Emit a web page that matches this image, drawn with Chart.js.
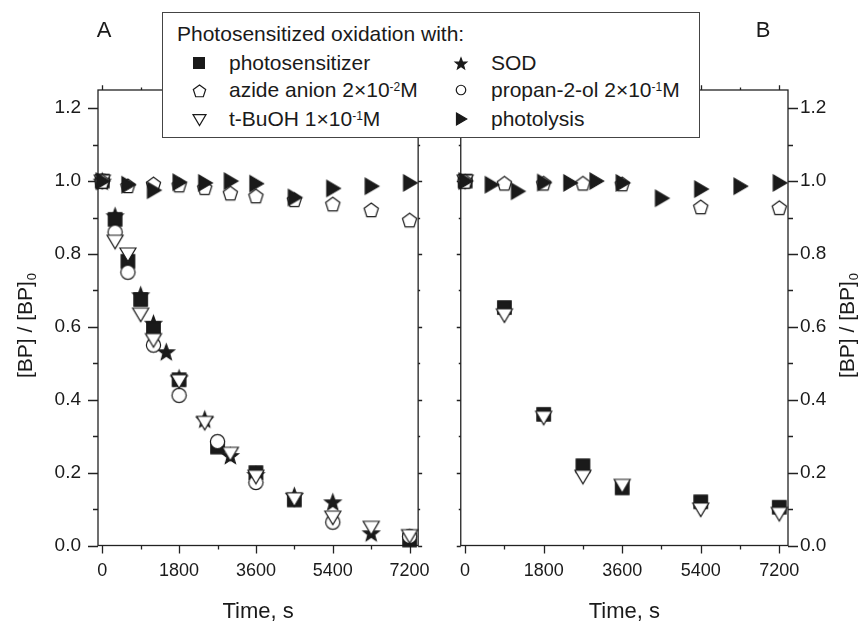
<!DOCTYPE html>
<html>
<head>
<meta charset="utf-8">
<title>BP photosensitized oxidation</title>
<script src="https://cdn.jsdelivr.net/npm/chart.js"></script>
<style>
  body { margin: 0; background: #fff; }
  #wrap { position: relative; width: 867px; height: 623px; overflow: hidden;
          font-family: "Liberation Sans", Arial, sans-serif; color: #1a1a1a; }
  canvas { position: absolute; top: 0; }
  #cA { left: 0; }
  #cB { left: 445px; }
  #legend { position: absolute; left: 162px; top: 12px; width: 536px; height: 124px;
            border: 1px solid #444; background: #fff; font-size: 21px; }
  #legend .t { position: absolute; left: 14px; top: 9px; line-height: 24px; white-space: nowrap; }
  #legend .row { position: absolute; white-space: nowrap; line-height: 24px; }
  #legend img { position: absolute; }
  #legend sup { font-size: 12px; position: relative; top: -3px; vertical-align: top; }
</style>
</head>
<body>
<div id="wrap">
  <canvas id="cA" width="445" height="623"></canvas>
  <canvas id="cB" width="422" height="623"></canvas>
  <div id="legend"></div>
</div>
<script>
// axis ticks
const xTicks = [0, 1800, 3600, 5400, 7200];
const xMinor = [900, 2700, 4500, 6300];
const yTicks = [0, 0.2, 0.4, 0.6, 0.8, 1.0, 1.2];
const yMinor = [0.1, 0.3, 0.5, 0.7, 0.9, 1.1];

// panel A
const tPsA = [0, 300, 600, 900, 1200, 1800, 2700, 3600, 4500, 7200];
const psA  = [1.0, 0.895, 0.78, 0.675, 0.595, 0.455, 0.27, 0.2, 0.125, 0.015];
const tSodA = [0, 300, 900, 1200, 1500, 1800, 2400, 3000, 3600, 4500, 5400, 6300];
const sodA  = [1.0, 0.905, 0.688, 0.61, 0.532, 0.46, 0.347, 0.247, 0.195, 0.137, 0.12, 0.035];
const tAzA = [0, 600, 1200, 1800, 2400, 3000, 3600, 4500, 5400, 6300, 7200];
const azA  = [1.0, 0.988, 0.993, 0.99, 0.983, 0.968, 0.96, 0.95, 0.938, 0.922, 0.894];
const tPrA = [0, 300, 600, 1200, 1800, 2700, 3600, 5400, 7200];
const prA  = [1.0, 0.86, 0.75, 0.55, 0.412, 0.285, 0.173, 0.064, 0.025];
const tTbA = [0, 300, 600, 900, 1200, 1800, 2400, 3000, 3600, 4500, 5400, 6300, 7200];
const tbA  = [1.0, 0.835, 0.80, 0.635, 0.565, 0.452, 0.338, 0.253, 0.19, 0.128, 0.078, 0.05, 0.027];
const tPhA = [0, 600, 1200, 1800, 2400, 3000, 3600, 4500, 5400, 6300, 7200];
const phA  = [1.0, 0.99, 0.975, 0.997, 0.995, 1.0, 0.993, 0.955, 0.98, 0.986, 0.995];

// panel B
const tB   = [0, 900, 1800, 2700, 3600, 5400, 7200];
const psB  = [1.0, 0.653, 0.36, 0.219, 0.158, 0.12, 0.105];
const tbB  = [1.0, 0.633, 0.352, 0.19, 0.165, 0.1, 0.088];
const azB  = [1.0, 0.995, 0.995, 0.995, 0.993, 0.93, 0.928];
const tPhB = [0, 600, 1200, 1800, 2400, 3000, 3600, 4500, 5400, 6300, 7200];
const phB  = [1.0, 0.99, 0.972, 0.996, 0.995, 1.0, 0.995, 0.953, 0.978, 0.986, 0.995];

const FONT = '"Liberation Sans", Arial, sans-serif';
const INK = '#1a1a1a';

// marker glyphs drawn on small canvases, used as pointStyle
function marker(kind, size) {
  const s = Math.ceil(size + 4);
  const c = document.createElement('canvas');
  c.width = s; c.height = s;
  const ctx = c.getContext('2d');
  const m = s / 2, r = size / 2;
  ctx.lineWidth = 1.2;
  ctx.strokeStyle = INK;
  ctx.fillStyle = '#fff';
  ctx.beginPath();
  if (kind === 'square') {
    ctx.rect(m - r * 0.9, m - r * 0.9, r * 1.8, r * 1.8);
    ctx.fillStyle = INK;
  } else if (kind === 'pentagon') {
    for (let i = 0; i < 5; i++) {
      const a = -Math.PI / 2 + i * 2 * Math.PI / 5;
      ctx.lineTo(m + r * Math.cos(a), m + 1 + r * Math.sin(a));
    }
  } else if (kind === 'tridown') {
    ctx.moveTo(m - r, m - r * 0.75);
    ctx.lineTo(m + r, m - r * 0.75);
    ctx.lineTo(m, m + r * 0.95);
  } else if (kind === 'triright') {
    ctx.moveTo(m - r * 0.75, m - r);
    ctx.lineTo(m + r * 0.95, m);
    ctx.lineTo(m - r * 0.75, m + r);
    ctx.fillStyle = INK;
  } else if (kind === 'circle') {
    ctx.arc(m, m, r * 0.95, 0, Math.PI * 2);
  } else if (kind === 'star') {
    for (let i = 0; i < 10; i++) {
      const a = -Math.PI / 2 + i * Math.PI / 5;
      const rr = i % 2 ? r * 0.42 : r;
      ctx.lineTo(m + rr * Math.cos(a), m + 1 + rr * Math.sin(a));
    }
    ctx.fillStyle = INK;
  }
  ctx.closePath();
  ctx.fill();
  ctx.stroke();
  return c;
}

const glyph = {
  ps: marker('square', 15),
  sod: marker('star', 17),
  az: marker('pentagon', 15),
  pr: marker('circle', 15),
  tb: marker('tridown', 16),
  ph: marker('triright', 16)
};

function pts(xs, ys) {
  return xs.map((x, i) => ({ x: x, y: ys[i] }));
}

function ds(label, xs, ys, style) {
  return { label: label, data: pts(xs, ys), pointStyle: style, pointRadius: 8,
           showLine: false, clip: false };
}

// frame with major/minor ticks on every side, placed through the scales
const framePlugin = {
  id: 'frame',
  beforeDatasetsDraw(chart, args, o) {
    const { ctx, chartArea: a } = chart;
    const xs = chart.scales.x, ys = chart.scales.y;
    ctx.save();
    ctx.strokeStyle = '#222';
    ctx.lineWidth = 1.3;
    ctx.strokeRect(a.left, a.top, a.right - a.left, a.bottom - a.top);
    ctx.beginPath();
    const xt = (list, len) => list.forEach(v => {
      const p = Math.round(xs.getPixelForValue(v)) + 0.5;
      ctx.moveTo(p, a.bottom); ctx.lineTo(p, a.bottom + len);
      ctx.moveTo(p, a.top); ctx.lineTo(p, a.top - len * 0.6);
    });
    const yt = (list, lenL, lenR) => list.forEach(v => {
      const p = Math.round(ys.getPixelForValue(v)) + 0.5;
      ctx.moveTo(a.left, p); ctx.lineTo(a.left - lenL, p);
      ctx.moveTo(a.right, p); ctx.lineTo(a.right + lenR, p);
    });
    xt(xTicks, 8);
    xt(xMinor, 4);
    yt(yTicks, o.left[0], o.right[0]);
    yt(yMinor, o.left[1], o.right[1]);
    ctx.stroke();
    ctx.restore();
  },
  afterDraw(chart, args, o) {
    const ctx = chart.ctx;
    ctx.save();
    ctx.fillStyle = INK;
    ctx.font = '22px ' + FONT;
    ctx.textAlign = 'center';
    ctx.textBaseline = 'middle';
    ctx.fillText(o.panel[0], o.panel[1], o.panel[2]);
    // rotated y title with subscript 0
    ctx.translate(o.ytitle[0], o.ytitle[1]);
    ctx.rotate(-Math.PI / 2);
    ctx.textAlign = 'left';
    ctx.textBaseline = 'alphabetic';
    ctx.font = '21px ' + FONT;
    const main = '[BP] / [BP]';
    const w1 = ctx.measureText(main).width;
    ctx.font = '13px ' + FONT;
    const w2 = ctx.measureText('0').width;
    const x0 = -(w1 + w2) / 2;
    ctx.fillText('0', x0 + w1 + 1, 11);
    ctx.font = '21px ' + FONT;
    ctx.fillText(main, x0, 7);
    ctx.restore();
  }
};

function makeChart(id, datasets, side, pad, yWidth, yPad, frameOpts) {
  return new Chart(document.getElementById(id), {
    type: 'scatter',
    data: { datasets: datasets },
    options: {
      responsive: false,
      animation: false,
      events: [],
      layout: { padding: pad },
      plugins: { legend: { display: false }, tooltip: { enabled: false }, frame: frameOpts },
      scales: {
        x: {
          type: 'linear', min: -100, max: 7400,
          grid: { display: false, drawTicks: false },
          border: { display: false },
          afterBuildTicks: s => { s.ticks = xTicks.map(v => ({ value: v })); },
          afterFit: s => { s.height = 77.5; },
          ticks: { padding: 15, color: INK, font: { family: FONT, size: 18 },
                   callback: v => String(v) },
          title: { display: true, text: 'Time, s', color: INK,
                   font: { family: FONT, size: 22 }, padding: { top: 0, bottom: -2 } }
        },
        y: {
          type: 'linear', position: side, min: 0, max: 1.25,
          grid: { display: false, drawTicks: false },
          border: { display: false },
          afterBuildTicks: s => { s.ticks = yTicks.map(v => ({ value: v })); },
          afterFit: s => { s.width = yWidth; },
          ticks: { padding: yPad, color: INK, font: { family: FONT, size: 19 },
                   callback: v => v.toFixed(1) }
        }
      }
    },
    plugins: [framePlugin]
  });
}

makeChart('cA', [
  ds('photolysis', tPhA, phA, glyph.ph),
  ds('azide anion', tAzA, azA, glyph.az),
  ds('t-BuOH', tTbA, tbA, glyph.tb),
  ds('propan-2-ol', tPrA, prA, glyph.pr),
  ds('photosensitizer', tPsA, psA, glyph.ps),
  ds('SOD', tSodA, sodA, glyph.sod)
], 'left', { top: 90, right: 14, left: 0, bottom: 0 }, 98, 17,
  { left: [10, 5], right: [4, 2], panel: ['A', 104, 31], ytitle: [25, 326] });

makeChart('cB', [
  ds('photolysis', tPhB, phB, glyph.ph),
  ds('azide anion', tB, azB, glyph.az),
  ds('t-BuOH', tB, tbB, glyph.tb),
  ds('photosensitizer', tB, psB, glyph.ps)
], 'right', { top: 90, right: 0, left: 9, bottom: 0 }, 79, 12,
  { left: [4, 2], right: [10, 5], panel: ['B', 318, 31], ytitle: [402, 326] });

// legend box spanning both panels
const legendRows = [
  ['ps', 'photosensitizer', 'sod', 'SOD'],
  ['az', 'azide anion 2×10<sup>-2</sup>M', 'pr', 'propan-2-ol 2×10<sup>-1</sup>M'],
  ['tb', 't-BuOH 1×10<sup>-1</sup>M', 'ph', 'photolysis']
];
const legendGlyph = {
  ps: marker('square', 12), sod: marker('star', 12), az: marker('pentagon', 13),
  pr: marker('circle', 10), tb: marker('tridown', 13), ph: marker('triright', 12)
};
const rowY = [50, 77, 106];
const lg = document.getElementById('legend');
let html = '<div class="t">Photosensitized oxidation with:</div>';
legendRows.forEach((r, i) => {
  [[r[0], r[1], 36, 66], [r[2], r[3], 298, 328]].forEach(([k, txt, mx, tx]) => {
    const g = legendGlyph[k];
    html += '<img src="' + g.toDataURL() + '" style="left:' + (mx - g.width / 2) +
            'px;top:' + (rowY[i] - g.height / 2) + 'px">';
    html += '<div class="row" style="left:' + tx + 'px;top:' + (rowY[i] - 12) + 'px">' + txt + '</div>';
  });
});
lg.innerHTML = html;
</script>
</body>
</html>
